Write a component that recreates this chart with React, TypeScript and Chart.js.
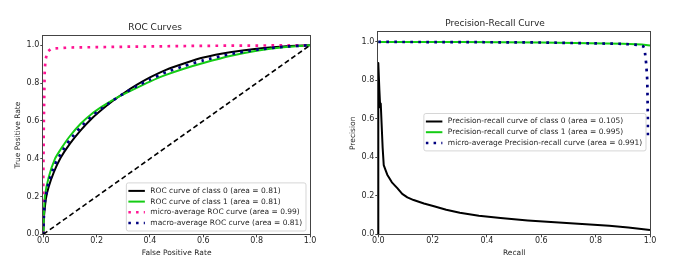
import React, { useEffect, useRef } from "react";
import { Chart, registerables } from "chart.js";
Chart.register(...registerables);

const FONT = '"DejaVu Sans", sans-serif';
const TEXT = "#262626";
const AXIS = "#444444";

// ---------- tick labels ----------
const xTickValues = [0, 0.2, 0.4, 0.6, 0.8, 1.0];
const yTickValues = [0, 0.2, 0.4, 0.6, 0.8, 1.0];

// ---------- ROC data ----------
const rocClass0Fpr = [0, 0.002, 0.005, 0.01, 0.02, 0.04, 0.065, 0.1, 0.14, 0.18, 0.22, 0.26, 0.3, 0.35, 0.4, 0.46, 0.53, 0.6, 0.7, 0.8, 0.9, 1];
const rocClass0Tpr = [0, 0.08, 0.13, 0.19, 0.25, 0.33, 0.405, 0.48, 0.55, 0.61, 0.66, 0.705, 0.745, 0.79, 0.83, 0.87, 0.905, 0.935, 0.963, 0.982, 0.994, 1];

const rocClass1Fpr = [0, 0.002, 0.006, 0.02, 0.044, 0.07, 0.1, 0.14, 0.18, 0.22, 0.26, 0.3, 0.35, 0.4, 0.46, 0.53, 0.6, 0.7, 0.8, 0.9, 1];
const rocClass1Tpr = [0, 0.1, 0.2, 0.3, 0.4, 0.46, 0.52, 0.585, 0.635, 0.675, 0.71, 0.74, 0.775, 0.808, 0.843, 0.877, 0.906, 0.943, 0.971, 0.99, 1];

const rocMicroFpr = [0, 0, 0.002, 0.005, 0.008, 0.015, 0.03, 0.1, 0.3, 0.6, 1];
const rocMicroTpr = [0, 0.3, 0.6, 0.85, 0.92, 0.965, 0.982, 0.988, 0.992, 0.997, 1];

const rocMacroFpr = [0, 0.002, 0.006, 0.02, 0.044, 0.07, 0.1, 0.14, 0.18, 0.22, 0.26, 0.3, 0.35, 0.4, 0.46, 0.53, 0.6, 0.7, 0.8, 0.9, 1];
const rocMacroTpr = [0, 0.09, 0.172, 0.275, 0.37, 0.437, 0.5, 0.567, 0.622, 0.667, 0.707, 0.743, 0.783, 0.819, 0.857, 0.891, 0.92, 0.953, 0.976, 0.992, 1];

const diagonalX = [0, 1];
const diagonalY = [0, 1];

const rocLabels = [
  "ROC curve of class 0 (area = 0.81)",
  "ROC curve of class 1 (area = 0.81)",
  "micro-average ROC curve (area = 0.99)",
  "macro-average ROC curve (area = 0.81)",
];

// ---------- Precision-Recall data ----------
const prClass0Recall = [0, 0, 0.004, 0.007, 0.009, 0.012, 0.016, 0.02, 0.025, 0.033, 0.05, 0.07, 0.088, 0.107, 0.13, 0.168, 0.205, 0.25, 0.3, 0.37, 0.45, 0.55, 0.65, 0.75, 0.85, 0.92, 1];
const prClass0Precision = [0, 0.89, 0.75, 0.66, 0.68, 0.58, 0.45, 0.36, 0.34, 0.31, 0.27, 0.24, 0.21, 0.192, 0.178, 0.16, 0.146, 0.128, 0.112, 0.097, 0.085, 0.072, 0.062, 0.054, 0.044, 0.035, 0.022];

const prClass1Recall = [0, 0.3, 0.6, 0.9, 0.97, 1];
const prClass1Precision = [1, 0.999, 0.997, 0.991, 0.987, 0.982];

const prMicroRecall = [0, 0.3, 0.6, 0.9, 0.96, 0.975, 0.98, 0.986, 0.99, 0.991, 0.992, 0.992];
const prMicroPrecision = [1, 0.999, 0.997, 0.99, 0.984, 0.977, 0.965, 0.886, 0.8, 0.71, 0.6, 0.5];

const prLabels = [
  "Precision-recall curve of class 0 (area = 0.105)",
  "Precision-recall curve of class 1 (area = 0.995)",
  "micro-average Precision-recall curve (area = 0.991)",
];

// ---------- colours ----------
const BLACK = "#000000";
const GREEN = "#14cc14";
const PINK = "#ff1493";
const NAVY = "#000080";

function pts(xs: number[], ys: number[]) {
  return xs.map((x, i) => ({ x, y: ys[i] }));
}

function ds(label: string | null, xs: number[], ys: number[], color: string, width: number, dash: number[], tension: number) {
  return {
    label,
    data: pts(xs, ys),
    borderColor: color,
    backgroundColor: color,
    borderWidth: width,
    borderDash: dash,
    borderCapStyle: "butt",
    borderJoinStyle: "round",
    pointRadius: 0,
    pointHoverRadius: 0,
    fill: false,
    tension,
    clip: { left: 2, top: 2, right: 2, bottom: 0 },
  };
}

const LEGEND_FONT = 7.5;

const frameLegend = {
  id: "frameLegend",
  afterDatasetsDraw(chart: any, _args: any, opts: any) {
    const { ctx, chartArea: a } = chart;
    ctx.save();
    // frame
    ctx.strokeStyle = AXIS;
    ctx.lineWidth = 1;
    ctx.setLineDash([]);
    ctx.strokeRect(Math.round(a.left) - 0.5, Math.round(a.top) - 0.5, Math.round(a.right) - Math.round(a.left) + 1, Math.round(a.bottom) - Math.round(a.top) + 1);
    // legend
    const items = chart.data.datasets.filter((d: any) => d.label);
    ctx.font = `${LEGEND_FONT}px ${FONT}`;
    const textW = Math.max(...items.map((d: any) => ctx.measureText(d.label).width));
    const rowH = 10.7;
    const pad = 8;
    const boxW = 24 + textW + 3.7;
    const boxH = pad * 2 + (items.length - 1) * rowH;
    const right = a.right - 4;
    const left = right - boxW;
    const top = opts.anchor === "lowerRight" ? a.bottom - 3.3 - boxH : a.top + opts.topOffset;
    ctx.beginPath();
    const r = 2;
    ctx.moveTo(left + r, top);
    ctx.lineTo(left + boxW - r, top);
    ctx.quadraticCurveTo(left + boxW, top, left + boxW, top + r);
    ctx.lineTo(left + boxW, top + boxH - r);
    ctx.quadraticCurveTo(left + boxW, top + boxH, left + boxW - r, top + boxH);
    ctx.lineTo(left + r, top + boxH);
    ctx.quadraticCurveTo(left, top + boxH, left, top + boxH - r);
    ctx.lineTo(left, top + r);
    ctx.quadraticCurveTo(left, top, left + r, top);
    ctx.closePath();
    ctx.fillStyle = "rgba(255,255,255,0.8)";
    ctx.fill();
    ctx.strokeStyle = "rgba(204,204,204,0.8)";
    ctx.lineWidth = 1;
    ctx.stroke();
    items.forEach((d: any, i: number) => {
      const y = top + pad + i * rowH;
      ctx.beginPath();
      ctx.strokeStyle = d.borderColor;
      ctx.lineWidth = d.borderDash && d.borderDash.length ? 2.5 : d.borderWidth;
      ctx.setLineDash(d.borderDash && d.borderDash.length ? [2.5, 5.2] : []);
      ctx.lineCap = "butt";
      ctx.moveTo(left + 2, y);
      ctx.lineTo(left + 18.5, y);
      ctx.stroke();
      ctx.setLineDash([]);
      ctx.fillStyle = TEXT;
      ctx.textAlign = "left";
      ctx.textBaseline = "middle";
      ctx.fillText(d.label, left + 24, y);
    });
    ctx.restore();
  },
};

type Cfg = {
  datasets: any[];
  title: string;
  xTitle: string;
  yTitle: string;
  yAxisWidth: number;
  padRight: number;
  titlePadTop: number;
  titlePadBottom: number;
  yTitlePad: number;
  legend: any;
};

function makeConfig(c: Cfg): any {
  const tickFont = { family: FONT, size: 8, lineHeight: 1 };
  const grid = { display: true, drawOnChartArea: false, drawTicks: true, tickLength: 3, color: AXIS, lineWidth: 1 };
  return {
    type: "line",
    data: { datasets: c.datasets },
    plugins: [frameLegend],
    options: {
      animation: false,
      responsive: false,
      maintainAspectRatio: false,
      devicePixelRatio: 1,
      events: [],
      layout: { padding: { left: 0, right: c.padRight, top: 0, bottom: 0 } },
      plugins: {
        legend: { display: false },
        tooltip: { enabled: false },
        title: {
          display: true,
          text: c.title,
          color: TEXT,
          font: { family: FONT, size: 9, weight: "normal", lineHeight: 1.2 },
          padding: { top: c.titlePadTop, bottom: c.titlePadBottom },
        },
        frameLegend: c.legend,
      },
      scales: {
        x: {
          type: "linear",
          min: 0,
          max: 1,
          afterBuildTicks: (s: any) => {
            s.ticks = xTickValues.map((v) => ({ value: v }));
          },
          afterFit: (s: any) => {
            s.height = 263 - 234.3;
          },
          ticks: {
            callback: (v: any) => Number(v).toFixed(1),
            color: TEXT,
            font: tickFont,
            padding: 0,
            maxRotation: 0,
            autoSkip: false,
          },
          grid,
          border: { display: false },
          title: {
            display: true,
            text: c.xTitle,
            color: TEXT,
            font: { family: FONT, size: 7.5, lineHeight: 1.2 },
            padding: { top: 0, bottom: 5.5 },
          },
        },
        y: {
          type: "linear",
          min: 0,
          max: 1.05,
          afterBuildTicks: (s: any) => {
            s.ticks = yTickValues.map((v) => ({ value: v }));
          },
          afterFit: (s: any) => {
            s.width = c.yAxisWidth;
          },
          ticks: {
            callback: (v: any) => Number(v).toFixed(1),
            color: TEXT,
            font: tickFont,
            padding: 1,
            autoSkip: false,
          },
          grid,
          border: { display: false },
          title: {
            display: true,
            text: c.yTitle,
            color: TEXT,
            font: { family: FONT, size: 7.5, lineHeight: 1.2 },
            padding: { top: c.yTitlePad, bottom: 0 },
          },
        },
      },
    },
  };
}

function withOrder(list: any[]) {
  return list.map((d, i) => ({ ...d, order: list.length - i }));
}

function rocConfig() {
  const datasets = withOrder([
    ds(rocLabels[0], rocClass0Fpr, rocClass0Tpr, BLACK, 2, [], 0.2),
    ds(rocLabels[1], rocClass1Fpr, rocClass1Tpr, GREEN, 2, [], 0.2),
    ds(rocLabels[2], rocMicroFpr, rocMicroTpr, PINK, 2.7, [2.7, 5.3], 0),
    ds(rocLabels[3], rocMacroFpr, rocMacroTpr, NAVY, 2.7, [2.7, 5.3], 0.2),
    ds(null, diagonalX, diagonalY, BLACK, 1.6, [5, 3], 0),
  ]);
  return makeConfig({
    datasets,
    title: "ROC Curves",
    xTitle: "False Positive Rate",
    yTitle: "True Positive Rate",
    yAxisWidth: 43.3,
    padRight: 30,
    titlePadTop: 22.6,
    titlePadBottom: 2.4,
    yTitlePad: 13.8,
    legend: { anchor: "lowerRight", topOffset: 0 },
  });
}

function prConfig() {
  const datasets = withOrder([
    ds(prLabels[0], prClass0Recall, prClass0Precision, BLACK, 2, [], 0),
    ds(prLabels[1], prClass1Recall, prClass1Precision, GREEN, 2, [], 0),
    ds(prLabels[2], prMicroRecall, prMicroPrecision, NAVY, 2.7, [2.7, 5.3], 0),
  ]);
  return makeConfig({
    datasets,
    title: "Precision-Recall Curve",
    xTitle: "Recall",
    yTitle: "Precision",
    yAxisWidth: 38.3,
    padRight: 35,
    titlePadTop: 18.6,
    titlePadBottom: 2.9,
    yTitlePad: 8.8,
    legend: { anchor: "top", topOffset: 81.2 },
  });
}

function ChartCanvas(props: { make: () => any; left: number; width: number; height: number }) {
  const ref = useRef<HTMLCanvasElement>(null);
  useEffect(() => {
    const chart = new Chart(ref.current as HTMLCanvasElement, props.make());
    return () => chart.destroy();
  }, []);
  return (
    <canvas
      ref={ref}
      width={props.width}
      height={props.height}
      style={{ position: "absolute", left: props.left, top: 0, width: props.width, height: props.height, display: "block" }}
    />
  );
}

export default function App() {
  return (
    <div style={{ position: "absolute", left: 0, top: 0, width: 685, height: 263, background: "#ffffff", overflow: "hidden" }}>
      <ChartCanvas make={rocConfig} left={0} width={340} height={263} />
      <ChartCanvas make={prConfig} left={340} width={345} height={263} />
    </div>
  );
}
